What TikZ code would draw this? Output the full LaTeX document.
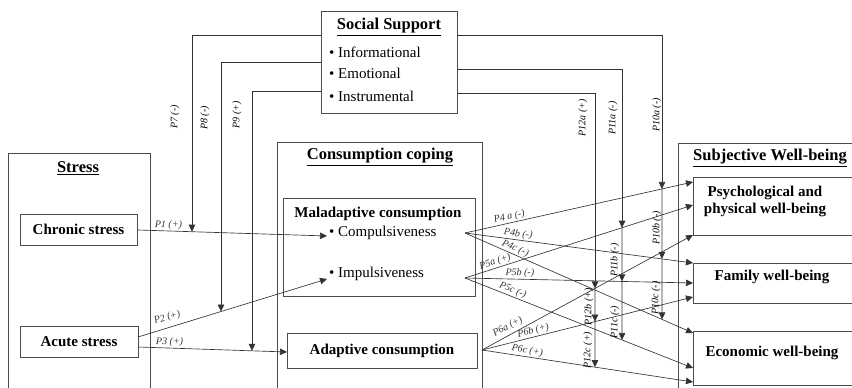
\documentclass[tikz,border=0pt]{standalone}
\usepackage{fontspec}
\setmainfont{Liberation Serif}
\usetikzlibrary{positioning, calc}
\usetikzlibrary{arrows.meta}

\begin{document}
\begin{tikzpicture}[x=1pt,y=-1pt]
		\tikzstyle{groupbox} = [draw=black!70, line width=0.6pt, anchor=north west, inner sep=0pt]
		\tikzstyle{itembox} = [draw=black!70, line width=0.6pt, inner sep=0pt]
		\tikzstyle{grouphead} = [font=\fontsize{16.5}{19}\selectfont\bfseries]
		\tikzstyle{boldtext} = [font=\fontsize{15}{17}\selectfont\bfseries, align=center]
		\tikzstyle{bulletitem} = [font=\fontsize{15}{17}\selectfont, anchor=west, inner sep=0pt]
		\tikzstyle{plab} = [font=\fontsize{10}{12}\selectfont\itshape, inner sep=1pt]
		\tikzstyle{link} = [black!80, line width=0.65pt, -{Triangle[length=7pt,width=6.5pt]}]
		\clip (0,0) rectangle (852,388);

		% stress
		\node[groupbox, minimum width=142, minimum height=260] (stress) at (8,153) {};
		\node[grouphead] (stresstitle) at (78,168) {\underline{Stress}};
		\node[itembox, boldtext, minimum width=117, minimum height=31] (chronic) at (78.5,229.5) {Chronic stress};
		\node[itembox, boldtext, minimum width=118, minimum height=31] (acute) at (79,341.5) {Acute stress};

		% consumption coping
		\node[groupbox, minimum width=205, minimum height=260] (coping) at (277,142) {};
		\node[grouphead] (copingtitle) at (380,157) {\underline{Consumption coping}};
		\node[groupbox, minimum width=192, minimum height=98] (malad) at (283,198) {};
		\node[boldtext] (maladtitle) at (378,214) {Maladaptive consumption};
		\node[bulletitem] (comp) at (329,233) {\textbullet\ Compulsiveness};
		\node[bulletitem] (impul) at (329,274) {\textbullet\ Impulsiveness};
		\node[itembox, boldtext, minimum width=190, minimum height=35] (adapt) at (382,350.5) {Adaptive consumption};

		% subjective well-being
		\node[groupbox, minimum width=200, minimum height=260] (swb) at (678,143) {};
		\node[grouphead] (swbtitle) at (770,158) {\underline{Subjective Well-being}};
		\node[groupbox, minimum width=180, minimum height=58] (psych) at (693,177) {};
		\node[boldtext] (psychtext) at (765,201) {Psychological and\\physical well-being};
		\node[groupbox, minimum width=180, minimum height=40] (family) at (693,263) {};
		\node[boldtext] (familytext) at (772,277) {Family well-being};
		\node[groupbox, minimum width=180, minimum height=54] (econ) at (693,331) {};
		\node[boldtext] (econtext) at (772,353) {Economic well-being};

		% social support
		\node[itembox, minimum width=136, minimum height=102] (social) at (389,62) {};
		\node[grouphead] (socialtitle) at (389,27) {\underline{Social Support}};
		\node[bulletitem] (info) at (329,52) {\textbullet\ Informational};
		\node[bulletitem] (emo) at (329,73) {\textbullet\ Emotional};
		\node[bulletitem] (instr) at (329,96) {\textbullet\ Instrumental};

		% end points
		\coordinate (chronicout) at (138,230); \coordinate (compin) at (327,236);
		\coordinate (acuteoutA) at (138,337); \coordinate (acuteoutB) at (138,347);
		\coordinate (impulin) at (327,279); \coordinate (adaptin) at (287,352);
		\coordinate (compout) at (465,233); \coordinate (impulout) at (465,278); \coordinate (adaptout) at (482,350);
		\coordinate (psychA) at (693,182); \coordinate (psychB) at (693,205); \coordinate (psychC) at (693,235);
		\coordinate (familyA) at (693,263); \coordinate (familyB) at (693,283); \coordinate (familyC) at (693,297);
		\coordinate (econA) at (693,333); \coordinate (econB) at (693,368); \coordinate (econC) at (693,382);

		% direct effects
		\draw[link] (chronicout) -- node[plab, pos=0.16, above, sloped] {P1 (+)} (compin);
		\draw[link] (acuteoutA) -- node[plab, pos=0.17, above=4pt, sloped] {P2 (+)} (impulin);
		\draw[link] (acuteoutB) -- node[plab, pos=0.21, above, sloped] {P3 (+)} (adaptin);
		\draw[link] (compout) -- node[plab, pos=0.2, above, sloped] {P4 a (-)} (psychA);
		\draw[link] (compout) -- node[plab, pos=0.23, above, sloped] {P4b (-)} (familyA);
		\draw[link] (compout) -- node[plab, pos=0.21, above, sloped] {P4c (-)} (econA);
		\draw[link] (impulout) -- node[plab, pos=0.14, above, sloped] {P5a (+)} (psychB);
		\draw[link] (impulout) -- node[plab, pos=0.24, above, sloped] {P5b (-)} (familyB);
		\draw[link] (impulout) -- node[plab, pos=0.2, above, sloped] {P5c (-)} (econB);
		\draw[link] (adaptout) -- node[plab, pos=0.14, above=2pt, sloped] {P6a (+)} (psychC);
		\draw[link] (adaptout) -- node[plab, pos=0.25, above, sloped] {P6b (+)} (familyC);
		\draw[link] (adaptout) -- node[plab, pos=0.21, above, sloped] {P6c (+)} (econC);

		% moderation points
		\coordinate (m7) at (intersection of 192,0--192,400 and chronicout--compin);
		\coordinate (m8) at (intersection of 221,0--221,400 and acuteoutA--impulin);
		\coordinate (m9) at (intersection of 252,0--252,400 and acuteoutB--adaptin);
		\coordinate (m10a) at (intersection of 662,0--662,400 and compout--psychA);
		\coordinate (m10b) at (intersection of 662,0--662,400 and compout--familyA);
		\coordinate (m10c) at (intersection of 662,0--662,400 and compout--econA);
		\coordinate (m11a) at (intersection of 622,0--622,400 and impulout--psychB);
		\coordinate (m11b) at (intersection of 622,0--622,400 and impulout--familyB);
		\coordinate (m11c) at (intersection of 622,0--622,400 and impulout--econB);
		\coordinate (m12a) at (intersection of 595,0--595,400 and adaptout--psychC);
		\coordinate (m12b) at (intersection of 595,0--595,400 and adaptout--familyC);
		\coordinate (m12c) at (intersection of 595,0--595,400 and adaptout--econC);

		% moderating effects
		\draw[link] (social.west |- 0,35) -| (m7);
		\draw[link] (social.west |- 0,62) -| (m8);
		\draw[link] (social.west |- 0,91) -| (m9);
		\draw[link] (social.east |- 0,35) -| (m10a); \draw[link] (m10a) -- (m10b); \draw[link] (m10b) -- (m10c);
		\draw[link] (social.east |- 0,69) -| (m11a); \draw[link] (m11a) -- (m11b); \draw[link] (m11b) -- (m11c);
		\draw[link] (social.east |- 0,93) -| (m12a); \draw[link] (m12a) -- (m12b); \draw[link] (m12b) -- (m12c);

		\node[plab, rotate=90] (l7) at (175,117) {P7 (-)};
		\node[plab, rotate=90] (l8) at (205,118) {P8 (-)};
		\node[plab, rotate=90] (l9) at (237,115) {P9 (+)};
		\node[plab, rotate=90] (l10a) at (657,115) {P10a (-)};
		\node[plab, rotate=90] (l10b) at (657,228) {P10b (-)};
		\node[plab, rotate=90] (l10c) at (656,298) {P10c (-)};
		\node[plab, rotate=90] (l11a) at (613,118) {P11a (-)};
		\node[plab, rotate=90] (l11b) at (615,260) {P11b (-)};
		\node[plab, rotate=90] (l11c) at (615,322) {P11c (-)};
		\node[plab, rotate=90] (l12a) at (583,118) {P12a (+)};
		\node[plab, rotate=90] (l12b) at (589,307) {P12b (+)};
		\node[plab, rotate=90] (l12c) at (588,350) {P12c (+)};
\end{tikzpicture}
\end{document}
